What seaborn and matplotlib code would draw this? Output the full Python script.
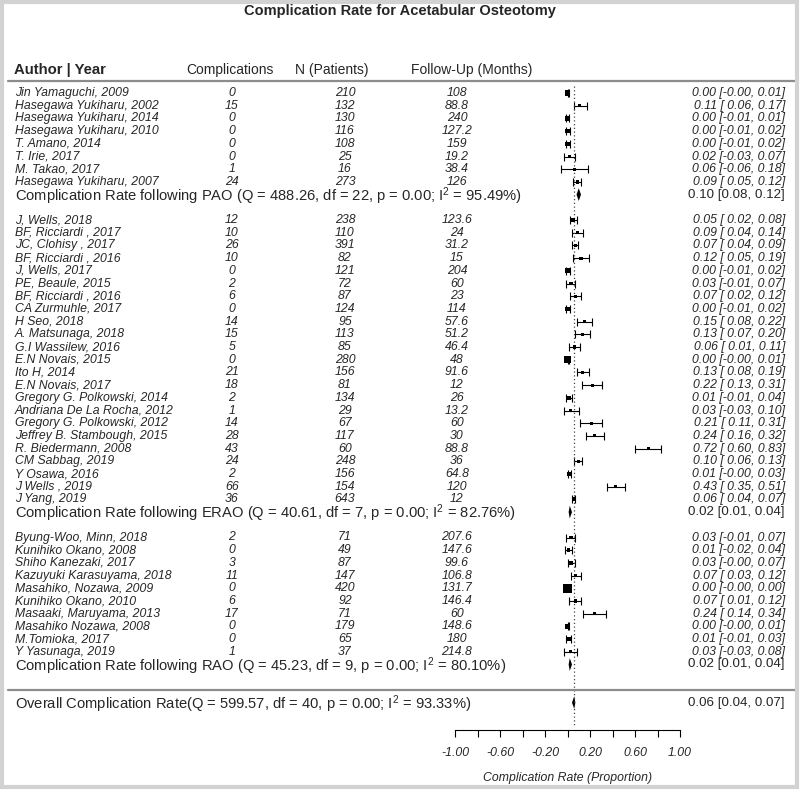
import matplotlib
matplotlib.use("Agg")
import matplotlib.pyplot as plt
from matplotlib.patches import Rectangle
import numpy as np
import pandas as pd
import seaborn as sns

# ---- PAO studies
pao_authors = ["Jin Yamaguchi, 2009", "Hasegawa Yukiharu, 2002", "Hasegawa Yukiharu, 2014",
               "Hasegawa Yukiharu, 2010", "T. Amano, 2014", "T. Irie, 2017", "M. Takao, 2017",
               "Hasegawa Yukiharu, 2007"]
pao_events = [0, 15, 0, 0, 0, 0, 1, 24]
pao_n = [210, 132, 130, 116, 108, 25, 16, 273]
pao_follow = [108, 88.8, 240, 127.2, 159, 19.2, 38.4, 126]
pao_est = [0.00, 0.11, 0.00, 0.00, 0.00, 0.02, 0.06, 0.09]
pao_lo = [-0.00, 0.06, -0.01, -0.01, -0.01, -0.03, -0.06, 0.05]
pao_hi = [0.01, 0.17, 0.01, 0.02, 0.02, 0.07, 0.18, 0.12]

# ---- ERAO studies
erao_authors = ["J, Wells, 2018", "BF, Ricciardi , 2017", "JC, Clohisy , 2017", "BF, Ricciardi , 2016",
                "J, Wells, 2017", "PE, Beaule, 2015", "BF, Ricciardi , 2016", "CA Zurmuhle, 2017",
                "H Seo, 2018", "A. Matsunaga, 2018", "G.I Wassilew, 2016", "E.N Novais, 2015",
                "Ito H, 2014", "E.N Novais, 2017", "Gregory G. Polkowski, 2014",
                "Andriana De La Rocha, 2012", "Gregory G. Polkowski, 2012", "Jeffrey B. Stambough, 2015",
                "R. Biedermann, 2008", "CM Sabbag, 2019", "Y Osawa, 2016", "J Wells , 2019", "J Yang, 2019"]
erao_events = [12, 10, 26, 10, 0, 2, 6, 0, 14, 15, 5, 0, 21, 18, 2, 1, 14, 28, 43, 24, 2, 66, 36]
erao_n = [238, 110, 391, 82, 121, 72, 87, 124, 95, 113, 85, 280, 156, 81, 134, 29, 67, 117, 60,
          248, 156, 154, 643]
erao_follow = [123.6, 24, 31.2, 15, 204, 60, 23, 114, 57.6, 51.2, 46.4, 48, 91.6, 12, 26, 13.2,
               60, 30, 88.8, 36, 64.8, 120, 12]
erao_est = [0.05, 0.09, 0.07, 0.12, 0.00, 0.03, 0.07, 0.00, 0.15, 0.13, 0.06, 0.00, 0.13, 0.22,
            0.01, 0.03, 0.21, 0.24, 0.72, 0.10, 0.01, 0.43, 0.06]
erao_lo = [0.02, 0.04, 0.04, 0.05, -0.01, -0.01, 0.02, -0.01, 0.08, 0.07, 0.01, -0.00, 0.08, 0.13,
           -0.01, -0.03, 0.11, 0.16, 0.60, 0.06, -0.00, 0.35, 0.04]
erao_hi = [0.08, 0.14, 0.09, 0.19, 0.02, 0.07, 0.12, 0.02, 0.22, 0.20, 0.11, 0.01, 0.19, 0.31,
           0.04, 0.10, 0.31, 0.32, 0.83, 0.13, 0.03, 0.51, 0.07]

# ---- RAO studies
rao_authors = ["Byung-Woo, Minn, 2018", "Kunihiko Okano, 2008", "Shiho Kanezaki, 2017",
               "Kazuyuki Karasuyama, 2018", "Masahiko, Nozawa, 2009", "Kunihiko Okano, 2010",
               "Masaaki, Maruyama, 2013", "Masahiko Nozawa, 2008", "M.Tomioka, 2017", "Y Yasunaga, 2019"]
rao_events = [2, 0, 3, 11, 0, 6, 17, 0, 0, 1]
rao_n = [71, 49, 87, 147, 420, 92, 71, 179, 65, 37]
rao_follow = [207.6, 147.6, 99.6, 106.8, 131.7, 146.4, 60, 148.6, 180, 214.8]
rao_est = [0.03, 0.01, 0.03, 0.07, 0.00, 0.07, 0.24, 0.00, 0.01, 0.03]
rao_lo = [-0.01, -0.02, -0.00, 0.03, -0.00, 0.01, 0.14, -0.00, -0.01, -0.03]
rao_hi = [0.07, 0.04, 0.07, 0.12, 0.00, 0.12, 0.34, 0.01, 0.03, 0.08]

# ---- subgroup / overall summaries
sub_names = ["PAO", "ERAO", "RAO"]
sub_q = [488.26, 40.61, 45.23]
sub_df = [22, 7, 9]
sub_p = [0.00, 0.00, 0.00]
sub_i2 = [95.49, 82.76, 80.10]
sub_est = [0.10, 0.02, 0.02]
sub_lo = [0.08, 0.01, 0.01]
sub_hi = [0.12, 0.04, 0.04]
ov_q, ov_df, ov_p, ov_i2 = 599.57, 40, 0.00, 93.33
ov_est, ov_lo, ov_hi = 0.06, 0.04, 0.07

tick_major = [-1.0, -0.6, -0.2, 0.2, 0.6, 1.0]
tick_minor = [-0.8, -0.4, 0.0, 0.4, 0.8]

# build one table, rows counted from the top
groups = [(pao_authors, pao_events, pao_n, pao_follow, pao_est, pao_lo, pao_hi),
          (erao_authors, erao_events, erao_n, erao_follow, erao_est, erao_lo, erao_hi),
          (rao_authors, rao_events, rao_n, rao_follow, rao_est, rao_lo, rao_hi)]
frames = []
sum_rows = []
start = 0
for authors, ev, n, fu, est, lo, hi in groups:
    k = len(authors)
    frames.append(pd.DataFrame({"author": authors, "events": ev, "n": n, "follow": fu,
                                "est": est, "lo": lo, "hi": hi,
                                "row": np.arange(start, start + k)}))
    sum_rows.append(start + k)
    start += k + 2
df = pd.concat(frames, ignore_index=True)
ov_row = sum_rows[-1] + 3

# marker size from inverse standard error (0.5 added to zero cells)
p_adj = np.where(df["events"] == 0, (df["events"] + 0.5) / (df["n"] + 1), df["events"] / df["n"])
inv_se = 1 / np.sqrt(p_adj * (1 - p_adj) / df["n"])
norm = (inv_se - inv_se.min()) / (inv_se.max() - inv_se.min())
side_pt = (3 + 6 * norm) * 0.72
df["area"] = side_pt ** 2

sns.set_style("white")
plt.rcParams["font.family"] = ["Liberation Sans", "DejaVu Sans"]
plt.rcParams["mathtext.fontset"] = "custom"
plt.rcParams["mathtext.rm"] = "Liberation Sans"
plt.rcParams["mathtext.it"] = "Liberation Sans:italic"

W, H = 800, 790
fig = plt.figure(figsize=(8, 7.9), dpi=100)
ax = fig.add_axes([0, 0, 1, 1])
X0, XS = 567.5, 112.5   # pixel of 0 and pixels per unit
Y0, YS = 93, 12.7       # pixel of first row and row height
ax.axis("off")


def px(x):
    return (x - X0) / XS


def py(y):
    return (y - Y0) / YS


# confidence intervals and squares
ax.errorbar(df["est"], df["row"], xerr=[df["est"] - df["lo"], df["hi"] - df["est"]], fmt="none",
            ecolor="black", elinewidth=0.8, capsize=2.7, capthick=0.8, zorder=2)
amin, amax = df["area"].min(), df["area"].max()
sns.scatterplot(data=df, x="est", y="row", size="area", sizes=(amin, amax), size_norm=(amin, amax),
                marker="s", color="black", linewidth=0, legend=False, ax=ax, zorder=3)
ax.set_xlim(-X0 / XS, (W - X0) / XS)
ax.set_ylim((H - Y0) / YS, -Y0 / YS)

# diamonds
for r, e, l, h in zip(sum_rows + [ov_row], sub_est + [ov_est], sub_lo + [ov_lo], sub_hi + [ov_hi]):
    ax.fill([l, e, h, e], [r, r - 0.5, r, r + 0.5], color="black", lw=0)

ax.plot([ov_est, ov_est], [py(86), py(725)], ls=(0, (1, 2)), color="#444444", lw=0.9)

# study text
fs = 8.8
for _, d in df.iterrows():
    ax.text(px(15), d["row"], d["author"], ha="left", va="center", style="italic", fontsize=fs)
    ax.text(px(232), d["row"], f"{d['events']}", ha="center", va="center", style="italic", fontsize=fs)
    ax.text(px(345), d["row"], f"{d['n']}", ha="center", va="center", style="italic", fontsize=fs)
    ax.text(px(457), d["row"], f"{d['follow']:g}", ha="center", va="center", style="italic", fontsize=fs)
    ax.text(px(785), d["row"], f"{d['est']:.2f} [{d['lo']:5.2f}, {d['hi']:.2f}]",
            ha="right", va="center", style="italic", fontsize=fs)

# summary text
fs2 = 10.6
fs3 = 9.6
for r, nm, q, dfv, p, i2, e, l, h in zip(sum_rows, sub_names, sub_q, sub_df, sub_p, sub_i2,
                                         sub_est, sub_lo, sub_hi):
    ax.text(px(15), r + 0.1, f"Complication Rate following {nm} (Q = {q:.2f}, df = {dfv}, p = {p:.2f}; "
            f"I$^2$ = {i2:.2f}%)", ha="left", va="center", fontsize=fs2)
    ax.text(px(785), r, f"{e:.2f} [{l:.2f}, {h:.2f}]", ha="right", va="center", fontsize=fs3)
ax.text(px(15), ov_row + 0.1, f"Overall Complication Rate(Q = {ov_q:.2f}, df = {ov_df}, p = {ov_p:.2f}; "
        f"I$^2$ = {ov_i2:.2f}%)", ha="left", va="center", fontsize=fs2)
ax.text(px(785), ov_row, f"{ov_est:.2f} [{ov_lo:.2f}, {ov_hi:.2f}]", ha="right", va="center",
        fontsize=fs3)

# header and title
ax.text(px(400), py(11), "Complication Rate for Acetabular Osteotomy", ha="center", va="center",
        fontsize=10.5, fontweight="bold")
ax.text(px(14), py(70), "Author | Year", ha="left", va="center", fontsize=10.7, fontweight="bold")
ax.text(px(230), py(70), "Complications", ha="center", va="center", fontsize=10)
ax.text(px(332), py(70), "N (Patients)", ha="center", va="center", fontsize=10)
ax.text(px(472), py(70), "Follow-Up (Months)", ha="center", va="center", fontsize=10)

for yl in [81, 690]:
    ax.plot([px(8), px(795)], [py(yl), py(yl)], color="#8c8c8c", lw=1.6)

# bottom axis
fax = fig.add_axes([455 / W, (H - 730) / H, 225 / W, 0.0001])
fax.set_facecolor("none")
fax.set_xlim(-1, 1)
for s in ["top", "left", "right"]:
    fax.spines[s].set_visible(False)
fax.spines["bottom"].set_linewidth(0.8)
fax.spines["bottom"].set_color("black")
fax.set_yticks([])
fax.set_xticks(tick_major)
fax.set_xticks(tick_minor, minor=True)
fax.set_xticklabels([f"{t:.2f}" for t in tick_major], style="italic", fontsize=8.8)
fax.tick_params(axis="x", which="both", direction="out", length=5, width=0.8, pad=7.5,
                bottom=True, color="black")
fax.set_xlabel("Complication Rate (Proportion)", style="italic", fontsize=8.8, labelpad=9)

fig.patches.append(Rectangle((1.5 / W, 3 / H), 795 / W, 785 / H, transform=fig.transFigure,
                             fill=False, edgecolor="#d2d2d2", lw=3))

fig.savefig("out.png", dpi=100)
